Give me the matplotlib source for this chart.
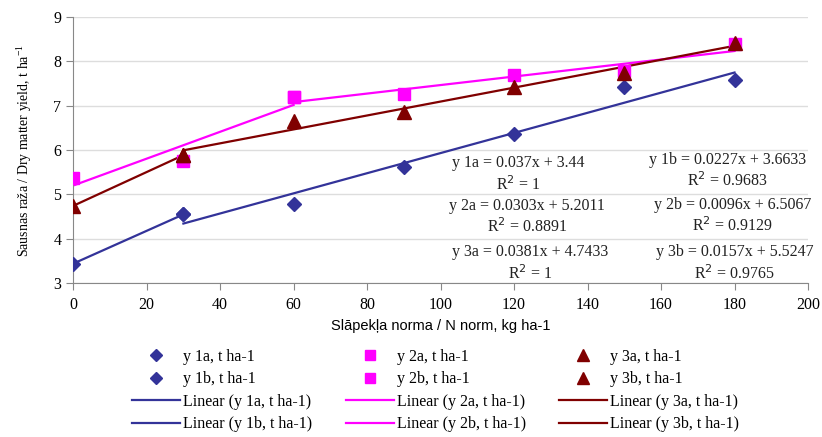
import matplotlib.pyplot as plt
from matplotlib.lines import Line2D

plt.rcParams['font.family'] = ['Liberation Serif', 'DejaVu Serif']

# nitrogen rates, kg/ha
x_all = [0, 30, 60, 90, 120, 150, 180]
y1 = [3.44, 4.55, 4.78, 5.62, 6.36, 7.42, 7.58]
y2 = [5.38, 5.75, 7.20, 7.26, 7.69, 7.78, 8.40]
y3 = [4.74, 5.886, 6.65, 6.85, 7.42, 7.73, 8.42]

# split points for the two-part trends (index range a / b)
split_1 = 1   # y1a: 0..30, y1b: 30..180
split_2 = 2   # y2a: 0..60, y2b: 60..180
split_3 = 1   # y3a: 0..30, y3b: 30..180

# trendline coefficients (slope, intercept, R2) as printed on the chart
fits = {
    '1a': (0.037, 3.44, '1'),
    '1b': (0.0227, 3.6633, '0.9683'),
    '2a': (0.0303, 5.2011, '0.8891'),
    '2b': (0.0096, 6.5067, '0.9129'),
    '3a': (0.0381, 4.7433, '1'),
    '3b': (0.0157, 5.5247, '0.9765'),
}
eq_pos = {
    '1a': (121, 5.45), '1b': (178, 5.53),
    '2a': (123.5, 4.49), '2b': (179.5, 4.51),
    '3a': (124.5, 3.44), '3b': (180, 3.44),
}

blue = '#333399'
magenta = '#FF00FF'
darkred = '#800000'

fig = plt.figure(figsize=(8.22, 4.37), dpi=100)
ax = fig.add_axes([0.089, 0.352, 0.894, 0.609])

series = [
    ('1', y1, split_1, blue, 'D', 7.5),
    ('2', y2, split_2, magenta, 's', 8.5),
    ('3', y3, split_3, darkred, '^', 9.5),
]

for key, ys, sp, col, mk, ms in series:
    xa, ya = x_all[:sp + 1], ys[:sp + 1]
    xb, yb = x_all[sp:], ys[sp:]
    for part, xs in (('a', xa), ('b', xb)):
        m, c, r2 = fits[key + part]
        ax.plot([xs[0], xs[-1]], [m * xs[0] + c, m * xs[-1] + c],
                color=col, lw=1.6, zorder=2)
    ax.plot(xa, ya, ls='none', marker=mk, ms=ms, color=col, zorder=3)
    ax.plot(xb, yb, ls='none', marker=mk, ms=ms, color=col, zorder=3)

for name, (m, c, r2) in fits.items():
    tx, ty = eq_pos[name]
    label = 'y %s = %gx + %s\nR$^2$ = %s' % (name, m, ('%.4f' % c).rstrip('0').rstrip('.'), r2)
    ax.text(tx, ty, label, ha='center', va='center', fontsize=11.5,
            linespacing=1.25, color='#222222', zorder=4)

ax.set_xlim(0, 200)
ax.set_ylim(3, 9)
ax.set_xticks(range(0, 201, 20))
ax.set_yticks(range(3, 10))
ax.tick_params(axis='both', labelsize=11.5, color='#888888', length=5)
ax.tick_params(axis='x', pad=5)
ax.grid(axis='y', color='#dddddd', lw=1)
ax.set_axisbelow(True)
for s in ('top', 'right'):
    ax.spines[s].set_visible(False)
for s in ('left', 'bottom'):
    ax.spines[s].set_color('#888888')

ax.set_xlabel('Slāpekļa norma / N norm, kg ha-1', fontsize=10.5,
              family=['Liberation Sans Narrow', 'Liberation Sans', 'DejaVu Sans'], labelpad=4)
ax.set_ylabel('Sausnas raža / Dry matter yield, t ha$^{\\mathregular{-1}}$', fontsize=10, labelpad=14)

# legend, column order to match the 3-column layout
def mk_handle(col, mk, ms):
    return Line2D([], [], ls='none', marker=mk, ms=ms - 1, color=col)

def ln_handle(col):
    return Line2D([], [], color=col, lw=1.6)

handles, labels = [], []
for key, ys, sp, col, mk, ms in series:
    handles += [mk_handle(col, mk, ms), mk_handle(col, mk, ms), ln_handle(col), ln_handle(col)]
    labels += ['y %sa, t ha-1' % key, 'y %sb, t ha-1' % key,
               'Linear (y %sa, t ha-1)' % key, 'Linear (y %sb, t ha-1)' % key]

fig.legend(handles, labels, ncol=3, loc='lower center', bbox_to_anchor=(0.53, -0.022),
           frameon=False, fontsize=11.5, handlelength=3.0, columnspacing=2.1,
           handletextpad=0.2, labelspacing=0.4)

fig.savefig('out.png', dpi=100)
